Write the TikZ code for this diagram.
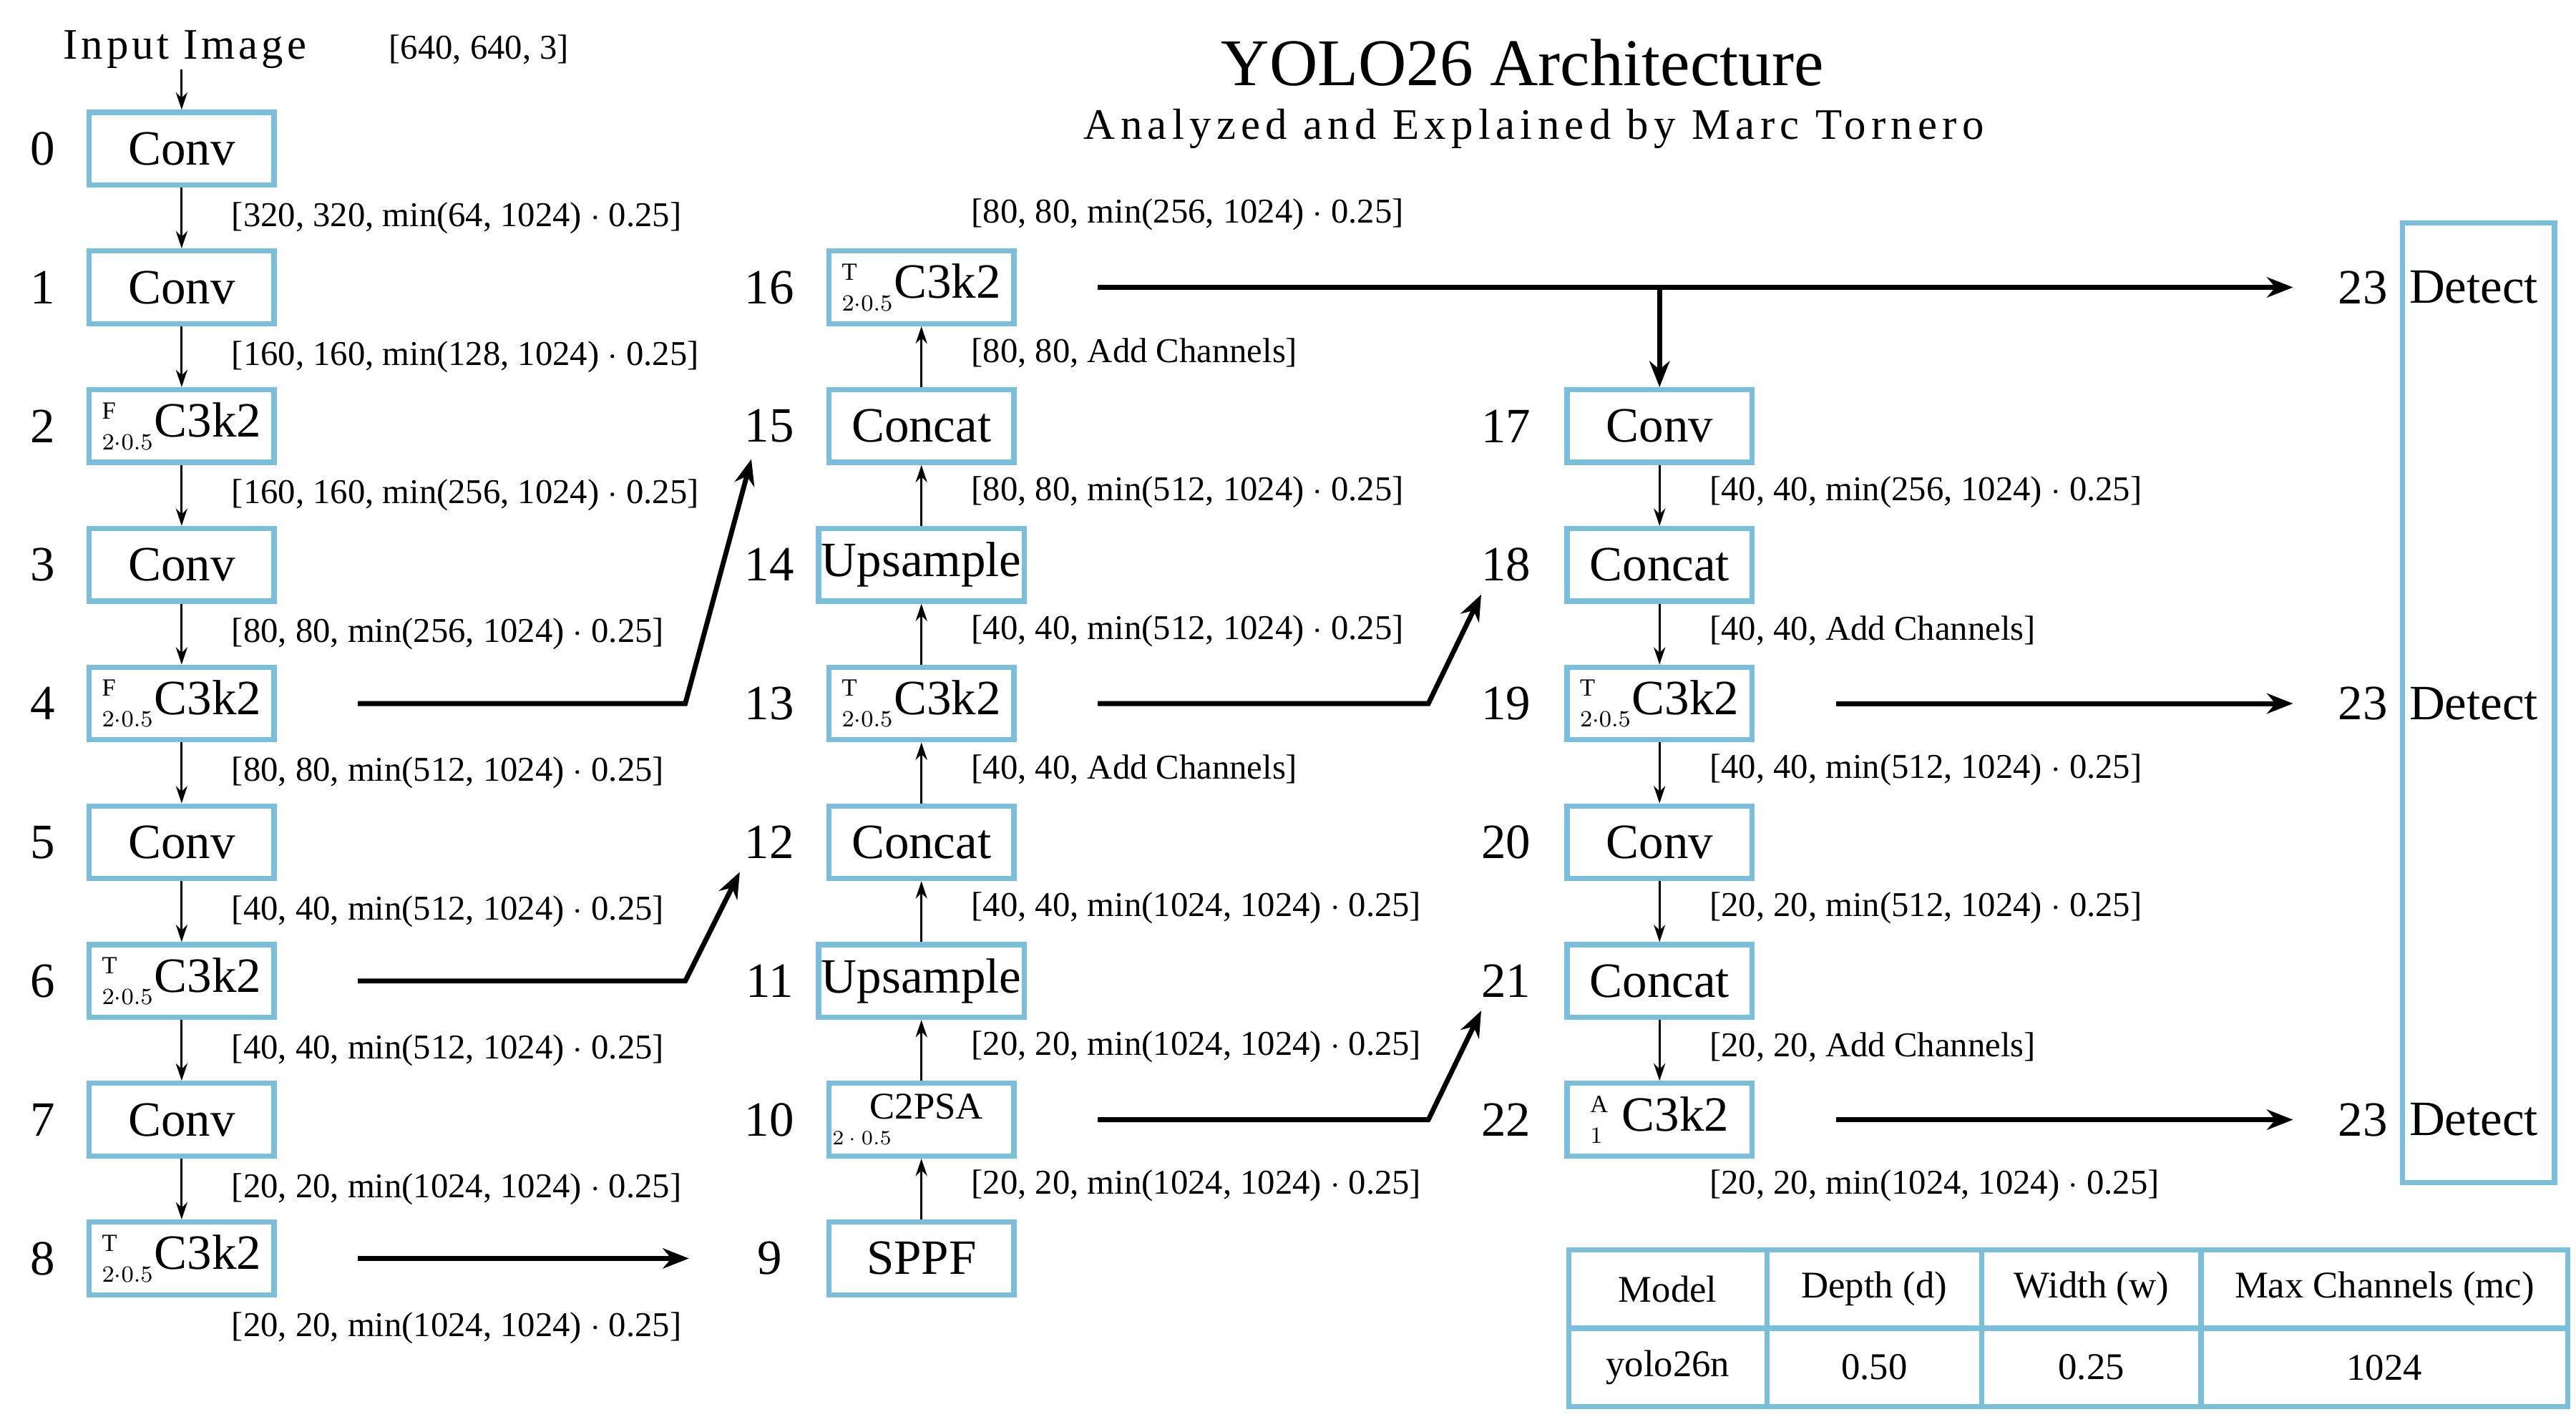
\documentclass[tikz,border=0pt]{standalone}
\usepackage{fontspec}
\setmainfont{Liberation Serif}
\usetikzlibrary{positioning, arrows.meta}
\definecolor{yoloblue}{RGB}{122,190,220}
\tikzset{
  >={Stealth[length=9pt,width=7pt]},
  blk/.style={draw=yoloblue, line width=1.8pt, minimum width=2.24cm, minimum height=0.88cm, inner sep=1pt, font=\fontsize{17}{19}\selectfont},
  idx/.style={font=\fontsize{17}{19}\selectfont},
  dim/.style={anchor=west, font=\fontsize{12}{14}\selectfont, inner sep=0pt},
  flow/.style={->, >={Stealth[length=6pt,width=4pt]}, line width=0.7pt},
  skip/.style={->, line width=1.7pt},
  cell/.style={draw=yoloblue, line width=1.8pt, minimum height=0.95cm, font=\fontsize{13}{15}\selectfont},
}
% C3k2 style block text: super/sub script on the left
\newcommand\cblk[3]{$\null^{\scriptscriptstyle\mathrm{#1}}_{\scriptscriptstyle #2}$#3}
\newcommand\ct{\cblk{T}{2\cdot0.5}{C3k2}}
\newcommand\cf{\cblk{F}{2\cdot0.5}{C3k2}}

\begin{document}
\begin{tikzpicture}[x=0.02cm, y=-0.02cm]
  \useasboundingbox (0,0) rectangle (1560,864);

  % title
  \node[font=\fontsize{23}{26}\selectfont] (title) at (922,38) {YOLO26 Architecture};
  \node[font=\fontsize{15}{18}\selectfont\addfontfeature{LetterSpace=12}] (sub) at (929,78) {Analyzed and Explained by Marc Tornero};
  \node[font=\fontsize{15}{18}\selectfont\addfontfeature{LetterSpace=8}] (inp) at (112,30) {Input Image};
  \node[font=\fontsize{12}{14}\selectfont] (inshape) at (290,30) {[640, 640, 3]};

  % backbone
  \foreach \i/\t in {0/Conv, 1/Conv, 2/\cf, 3/Conv, 4/\cf, 5/Conv, 6/\ct, 7/Conv, 8/\ct} {
    \node[blk] (b\i) at (110,90+84*\i) {\t};
    \node[idx] (n\i) at (26,90+84*\i) {\i};
  }
  \draw[flow] (110,42) -- (b0.north);
  \foreach \i/\j in {0/1, 1/2, 2/3, 3/4, 4/5, 5/6, 6/7, 7/8}
    \draw[flow] (b\i) -- (b\j);
  \foreach \i/\d in {0/{[320, 320, min(64, 1024) $\cdot$ 0.25]}, 1/{[160, 160, min(128, 1024) $\cdot$ 0.25]},
      2/{[160, 160, min(256, 1024) $\cdot$ 0.25]}, 3/{[80, 80, min(256, 1024) $\cdot$ 0.25]},
      4/{[80, 80, min(512, 1024) $\cdot$ 0.25]}, 5/{[40, 40, min(512, 1024) $\cdot$ 0.25]},
      6/{[40, 40, min(512, 1024) $\cdot$ 0.25]}, 7/{[20, 20, min(1024, 1024) $\cdot$ 0.25]},
      8/{[20, 20, min(1024, 1024) $\cdot$ 0.25]}}
    \node[dim] (l\i) at (140,132+84*\i) {\d};

  % neck, going up
  \foreach \i/\y/\t in {9/762/SPPF, 10/678/{}, 11/594/Upsample, 12/510/Concat, 13/426/\ct, 14/342/Upsample, 15/258/Concat, 16/174/\ct} {
    \node[blk] (b\i) at (558,\y) {\t};
    \node[idx] (n\i) at (466,\y) {\i};
  }
  \node[font=\fontsize{13}{15}\selectfont, inner sep=0pt] (c2) at (561,670) {C2PSA};
  \node[font=\fontsize{7}{8}\selectfont, inner sep=0pt] (c2s) at (522,689) {$2\cdot0.5$};
  \foreach \i/\j in {9/10, 10/11, 11/12, 12/13, 13/14, 14/15, 15/16}
    \draw[flow] (b\i) -- (b\j);
  \foreach \y/\d in {718/{[20, 20, min(1024, 1024) $\cdot$ 0.25]}, 634/{[20, 20, min(1024, 1024) $\cdot$ 0.25]},
      550/{[40, 40, min(1024, 1024) $\cdot$ 0.25]}, 466/{[40, 40, Add Channels]},
      382/{[40, 40, min(512, 1024) $\cdot$ 0.25]}, 298/{[80, 80, min(512, 1024) $\cdot$ 0.25]},
      214/{[80, 80, Add Channels]}, 130/{[80, 80, min(256, 1024) $\cdot$ 0.25]}}
    \node[dim] at (588,\y) {\d};

  % head, going down
  \foreach \i/\y/\t in {17/258/Conv, 18/342/Concat, 19/426/\ct, 20/510/Conv, 21/594/Concat, 22/678/{\cblk{A}{1}{\ C3k2}}} {
    \node[blk] (b\i) at (1005,\y) {\t};
    \node[idx] (n\i) at (912,\y) {\i};
  }
  \foreach \i/\j in {17/18, 18/19, 19/20, 20/21, 21/22}
    \draw[flow] (b\i) -- (b\j);
  \foreach \y/\d in {298/{[40, 40, min(256, 1024) $\cdot$ 0.25]}, 382/{[40, 40, Add Channels]},
      466/{[40, 40, min(512, 1024) $\cdot$ 0.25]}, 550/{[20, 20, min(512, 1024) $\cdot$ 0.25]},
      634/{[20, 20, Add Channels]}, 718/{[20, 20, min(1024, 1024) $\cdot$ 0.25]}}
    \node[dim] at (1035,\y) {\d};

  % detect
  \node[blk, minimum width=1.84cm, minimum height=11.62cm] (det) at (1501,425.5) {};
  \foreach \k/\y in {a/174, b/426, c/678} {
    \node[idx] (d\k) at (1498,\y) {Detect};
    \node[idx, anchor=east] (m\k) at (1452,\y) {23};
  }

  % skip connections
  \coordinate (k4) at (415,426);  \coordinate (e15) at (455,278);
  \coordinate (k6) at (415,594);  \coordinate (e12) at (448,528);
  \coordinate (k13) at (865,426); \coordinate (e18) at (897,360);
  \coordinate (k10) at (865,678); \coordinate (e21) at (897,612);
  \coordinate (t17) at (1005,174);
  \draw[skip, shorten <=28pt] (b4.east) -- (k4) -- (e15);
  \draw[skip, shorten <=28pt] (b6.east) -- (k6) -- (e12);
  \draw[skip, shorten <=28pt, shorten >=20pt] (b8.east) -- (n9.west);
  \draw[skip, shorten <=28pt] (b13.east) -- (k13) -- (e18);
  \draw[skip, shorten <=28pt] (b10.east) -- (k10) -- (e21);
  \draw[skip, shorten <=28pt, shorten >=12pt] (b16.east) -- (ma.west);
  \draw[skip] (t17) -- (b17.north);
  \draw[skip, shorten <=28pt, shorten >=12pt] (b19.east) -- (mb.west);
  \draw[skip, shorten <=28pt, shorten >=12pt] (b22.east) -- (mc.west);

  % scaling table
  \foreach \n/\x/\w/\h/\v in {m/1010/2.4/Model/yolo26n, d/1135/2.6/Depth (d)/0.50,
      w/1266.5/2.66/Width (w)/0.25, c/1444/4.44/Max Channels (mc)/1024} {
    \node[cell, minimum width=\w cm] (h\n) at (\x,780.5) {\h};
    \node[cell, minimum width=\w cm] (v\n) at (\x,828) {\v};
  }
\end{tikzpicture}
\end{document}
